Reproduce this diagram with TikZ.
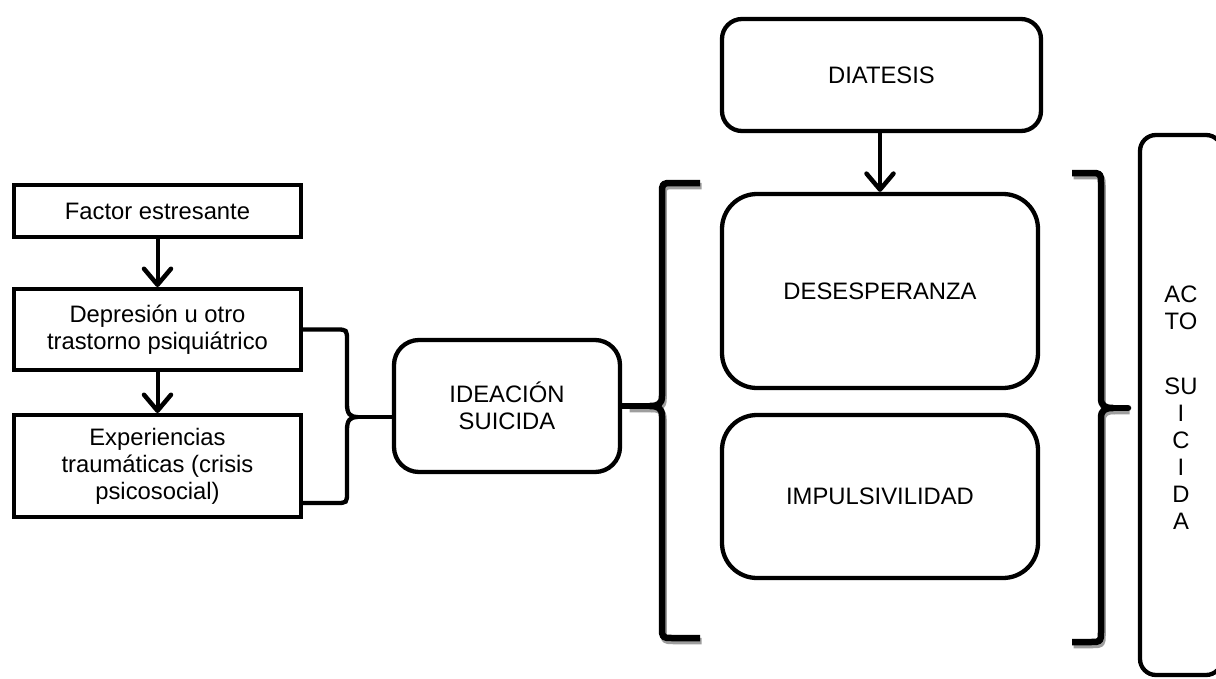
\documentclass[tikz,border=0pt]{standalone}
\usepackage{fontspec}
\setmainfont{Liberation Sans}
\usetikzlibrary{arrows.meta,calc}
\newcommand\fsz{\fontsize{23.8}{27}\selectfont}
\begin{document}
\begin{tikzpicture}[x=1pt,y=-1pt,
  box/.style={draw,line width=4pt,inner sep=0pt,align=center,font=\fsz},
  rbox/.style={box,line width=4.3pt,rounded corners=#1},
  arr/.style={line width=4pt,-{Straight Barb[length=16pt,width=27pt,line width=4.5pt,round]}},
  lbrace/.style={line width=4.3pt,line cap=round},
  bracket/.style={line width=6.5pt,line cap=butt,line join=round},
  shadow/.style={bracket,draw=black!38}
]
\useasboundingbox (0,0) rectangle (1216,678);
\clip (0,0) rectangle (1216,678);

% left column
\node[box,minimum width=287pt,minimum height=52pt] (fac) at (157.5,211) {Factor estresante};
\node[box,minimum width=287pt,minimum height=81pt] (dep) at (157.5,329.5) {Depresión u otro\\trastorno psiquiátrico};
\node[box,minimum width=287pt,minimum height=102pt] (exp) at (157.5,466) {Experiencias\\traumáticas (crisis\\psicosocial)};
\draw[arr] (fac.south) -- (dep.north);
\draw[arr] (dep.south) -- (exp.north);

% ideacion
\node[rbox=25pt,minimum width=226pt,minimum height=132pt] (ide) at (507,406) {IDEACIÓN\\SUICIDA};

% left brace
\coordinate (lbtip) at (358,417);
\coordinate (lbbot) at ($(exp.east)+(0,37)$);
\draw[lbrace] (dep.east) -- (336,329.5) .. controls (347,329.5) .. (347,341)
  -- (347,404) .. controls (347,414) and (350,417) .. (lbtip)
  .. controls (350,417) and (347,420) .. (347,430)
  -- (347,492) .. controls (347,503) .. (336,503) -- (lbbot);
\draw[lbrace] (lbtip) -- (lbtip -| ide.west);

% right side boxes
\node[rbox=20pt,minimum width=319pt,minimum height=112pt] (dia) at (881.5,75) {DIATESIS};
\node[rbox=35pt,minimum width=316pt,minimum height=194pt] (des) at (880,291) {DESESPERANZA};
\node[rbox=35pt,minimum width=316pt,minimum height=163pt] (imp) at (880,496.5) {IMPULSIVILIDAD};
\draw[arr] (dia.south -| des.north) -- (des.north);

% big left bracket
\coordinate (bltip) at (650,406);
\begin{scope}[shift={(1.5,3)}]
\draw[shadow] (700,183) -- (673,183) .. controls (662,183) .. (662,194)
  -- (662,396) .. controls (662,404) and (658,406) .. (650,406) -- (628,406);
\draw[shadow] (650,406) .. controls (658,406) and (662,408) .. (662,416)
  -- (662,627) .. controls (662,638) .. (673,638) -- (700,638);
\end{scope}
\draw[bracket] (700,183) -- (673,183) .. controls (662,183) .. (662,194)
  -- (662,396) .. controls (662,404) and (658,406) .. (bltip)
  .. controls (658,406) and (662,408) .. (662,416)
  -- (662,627) .. controls (662,638) .. (673,638) -- (700,638);
\draw[bracket] (bltip) -- (ide.east);

% right bracket
\begin{scope}[shift={(1.5,3)}]
\draw[shadow] (1072,173) -- (1090,173) .. controls (1101,173) .. (1101,184)
  -- (1101,398) .. controls (1101,406) and (1105,408) .. (1113,408) -- (1128,408);
\draw[shadow] (1113,408) .. controls (1105,408) and (1101,410) .. (1101,418)
  -- (1101,631) .. controls (1101,642) .. (1090,642) -- (1072,642);
\end{scope}
\coordinate (brtip) at (1128,408);
\draw[bracket] (1072,173) -- (1090,173) .. controls (1101,173) .. (1101,184)
  -- (1101,398) .. controls (1101,406) and (1105,408) .. (1113,408)
  .. controls (1105,408) and (1101,410) .. (1101,418)
  -- (1101,631) .. controls (1101,642) .. (1090,642) -- (1072,642);
\draw[bracket,line cap=round] (1113,408) -- (brtip);

% acto suicida
\node[rbox=16pt,minimum width=82pt,minimum height=540pt] (acto) at (1181,405) {};
\node[font=\fsz,align=center,inner sep=0pt] (actotxt) at ($(acto.center)+(0,3)$) {AC\\TO\\[38pt]SU\\I\\C\\I\\D\\A};
\end{tikzpicture}
\end{document}
